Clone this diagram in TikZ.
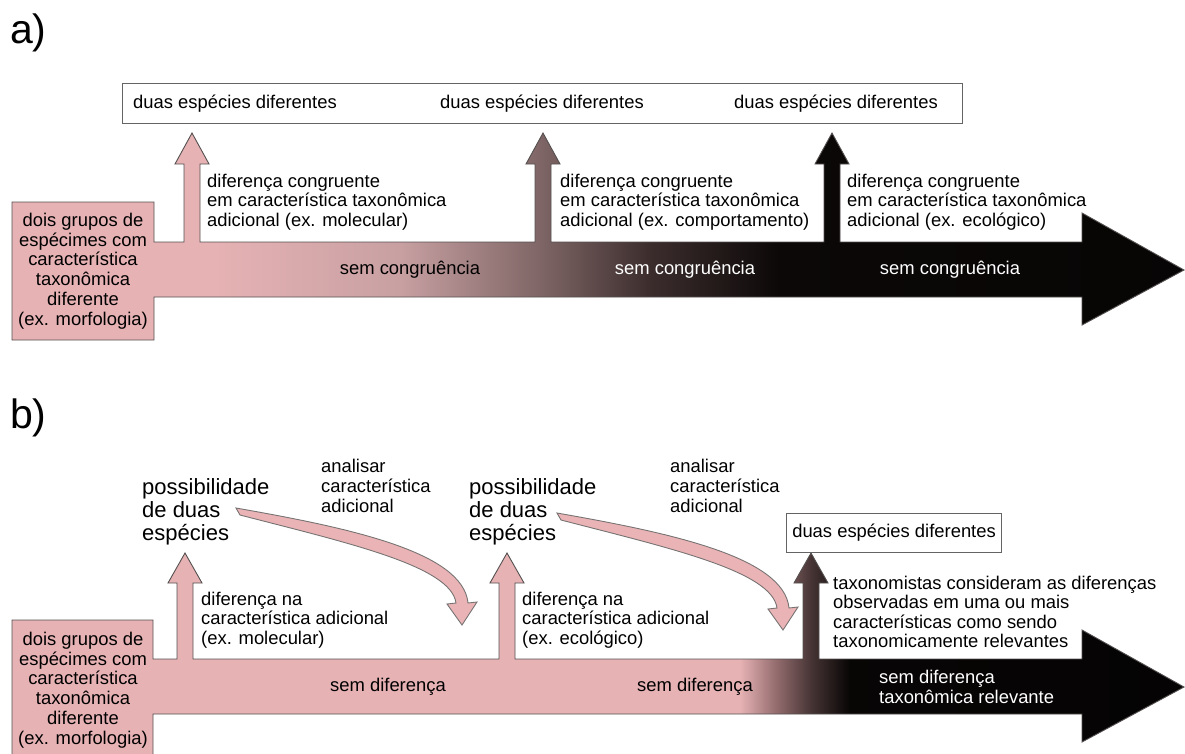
\documentclass[tikz,border=0pt]{standalone}
\usepackage{fontspec}
\setmainfont{Liberation Sans}
\definecolor{pinkc}{RGB}{230,178,180}
\definecolor{outl}{RGB}{85,80,80}
\definecolor{boxc}{RGB}{100,100,100}
\definecolor{curvfill}{RGB}{234,180,182}
\definecolor{curvdraw}{RGB}{120,115,115}
\pgfdeclarehorizontalshading{shadeA}{100bp}{
 rgb(0bp)=(0.902,0.698,0.706);
 rgb(33.66bp)=(0.902,0.698,0.706);
 rgb(41.55bp)=(0.784,0.627,0.635);
 rgb(47.70bp)=(0.49,0.392,0.392);
 rgb(52.22bp)=(0.235,0.176,0.176);
 rgb(57.76bp)=(0.047,0.031,0.031);
 rgb(100bp)=(0,0,0)}
\pgfdeclarehorizontalshading{shadeB}{100bp}{
 rgb(0bp)=(0.902,0.698,0.706);
 rgb(56.06bp)=(0.902,0.698,0.706);
 rgb(57.55bp)=(0.588,0.431,0.439);
 rgb(59.09bp)=(0.275,0.204,0.204);
 rgb(60.75bp)=(0.03,0.02,0.02);
 rgb(100bp)=(0,0,0)}
\tikzset{
  lbl/.style={font=\fontsize{41}{44}\selectfont, inner sep=0, anchor=base west},
  txt/.style={font=\fontsize{18.4}{19.6}\selectfont, align=left, inner sep=0, anchor=west},
  ctr/.style={font=\fontsize{18.4}{19.8}\selectfont, align=center, inner sep=0},
  big/.style={font=\fontsize{22}{22.8}\selectfont, align=left, inner sep=0, anchor=west},
  wtxt/.style={ctr, text=white},
  boxstyle/.style={draw=boxc, line width=1.1pt, inner sep=0, anchor=north west},
  bandstyle/.style={draw=outl, line width=0.9pt},
  curv/.style={fill=curvfill, draw=curvdraw, line width=0.9pt}
}
\begin{document}
\begin{tikzpicture}[x=1pt,y=-1pt]
\useasboundingbox (0,0) rectangle (1185,753);

% ---------- part a ----------
\node[lbl] (la) at (10,43) {a)};

\shadedraw[shading=shadeA, bandstyle]
  (12,202) -- (154,202) -- (154,242) -- (184,242) -- (184,164) -- (175,164)
  -- (192,133) -- (209,164) -- (200,164) -- (200,242)
  -- (535,242) -- (535,164) -- (526,164) -- (543,133) -- (560,164) -- (551,164) -- (551,242)
  -- (824,242) -- (824,164) -- (815,164) -- (832,133) -- (849,164) -- (840,164) -- (840,242)
  -- (1082,242) -- (1082,213) -- (1184,270) -- (1082,325) -- (1082,297)
  -- (154,297) -- (154,340) -- (12,340) -- cycle;

\node[boxstyle, minimum width=840, minimum height=40] (boxa) at (122,83) {};
\node[txt] (ta1) at (133,104) {duas espécies diferentes};
\node[txt] (ta2) at (440,104) {duas espécies diferentes};
\node[txt] (ta3) at (734,104) {duas espécies diferentes};

\node[ctr] (ga) at (83,271) {dois grupos de\\espécimes com\\característica\\taxonômica\\diferente\\(ex. morfologia)};

\node[txt] (da1) at (207,202) {diferença congruente\\em característica taxonômica\\adicional (ex. molecular)};
\node[txt] (da2) at (560,202) {diferença congruente\\em característica taxonômica\\adicional (ex. comportamento)};
\node[txt] (da3) at (847,202) {diferença congruente\\em característica taxonômica\\adicional (ex. ecológico)};

\node[ctr] (sa1) at (410,270) {sem congruência};
\node[wtxt] (sa2) at (685,270) {sem congruência};
\node[wtxt] (sa3) at (950,270) {sem congruência};

% ---------- part b ----------
\node[lbl] (lb) at (10,428) {b)};

\shadedraw[shading=shadeB, bandstyle]
  (12,620) -- (153,620) -- (153,659) -- (177,659) -- (177,583) -- (168,583)
  -- (185,553) -- (202,583) -- (193,583) -- (193,659)
  -- (499,659) -- (499,583) -- (490,583) -- (507,553) -- (524,583) -- (515,583) -- (515,659)
  -- (803,659) -- (803,583) -- (794,583) -- (811,553) -- (828,583) -- (819,583) -- (819,659)
  -- (1082,659) -- (1082,630) -- (1184,687) -- (1082,742) -- (1082,714)
  -- (153,714) -- (153,762) -- (12,762) -- cycle;

\node[ctr] (gb) at (83,690) {dois grupos de\\espécimes com\\característica\\taxonômica\\diferente\\(ex. morfologia)};

\node[big] (pb1) at (142,512) {possibilidade\\de duas\\espécies};
\node[big] (pb2) at (469,512) {possibilidade\\de duas\\espécies};

\node[txt] (an1) at (321,486) {analisar\\característica\\adicional};
\node[txt] (an2) at (670,486) {analisar\\característica\\adicional};

\node[txt] (db1) at (201,620) {diferença na\\característica adicional\\(ex. molecular)};
\node[txt] (db2) at (522,620) {diferença na\\característica adicional\\(ex. ecológico)};
\node[txt] (db3) at (833,612) {taxonomistas consideram as diferenças\\observadas em uma ou mais\\características como sendo\\taxonomicamente relevantes};

\node[ctr] (sb1) at (388,687) {sem diferença};
\node[ctr] (sb2) at (695,687) {sem diferença};
\node[txt, text=white] (sb3) at (879,687) {sem diferença\\taxonômica relevante};

\node[boxstyle, minimum width=215, minimum height=39, font=\fontsize{18.4}{19.6}\selectfont] (boxb) at (786,513) {duas espécies diferentes};

% curved arrows
\path[curv] (236,508) .. controls (350,528) and (463,552) .. (468,603)
  -- (477,602) -- (462,625) -- (447,604) -- (456,603)
  .. controls (451,566) and (348,543) .. (240,515) -- cycle;
\begin{scope}[shift={(321,5)}]
\path[curv] (236,508) .. controls (350,528) and (463,552) .. (468,603)
  -- (477,602) -- (462,625) -- (447,604) -- (456,603)
  .. controls (451,566) and (348,543) .. (240,515) -- cycle;
\end{scope}
\end{tikzpicture}
\end{document}
